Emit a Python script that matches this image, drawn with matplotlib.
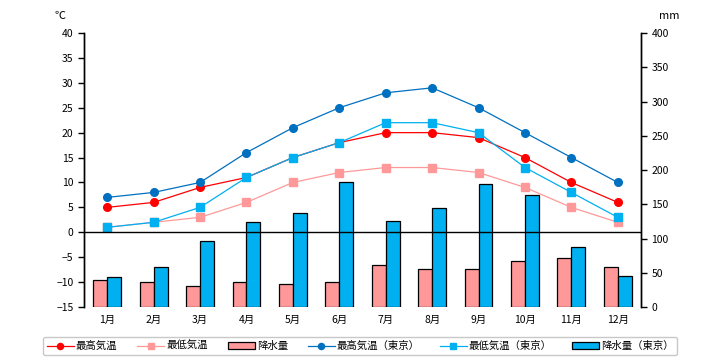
import matplotlib
matplotlib.use("Agg")
import matplotlib.pyplot as plt
import numpy as np

plt.rcParams['font.family'] = ['Noto Sans CJK JP', 'DejaVu Sans']

months = ["1月", "2月", "3月", "4月", "5月", "6月", "7月", "8月", "9月", "10月", "11月", "12月"]

# temperatures (℃)
t_max = [5, 6, 9, 11, 15, 18, 20, 20, 19, 15, 10, 6]
t_min = [1, 2, 3, 6, 10, 12, 13, 13, 12, 9, 5, 2]
tokyo_max = [7, 8, 10, 16, 21, 25, 28, 29, 25, 20, 15, 10]
tokyo_min = [1, 2, 5, 11, 15, 18, 22, 22, 20, 13, 8, 3]

# precipitation (mm)
rain = [39, 36, 30, 36, 33, 36, 61, 56, 55, 67, 72, 58]
tokyo_rain = [44, 58, 97, 124, 137, 183, 125, 145, 179, 163, 87, 45]

x = np.arange(len(months))

fig = plt.figure(figsize=(7.2, 3.6), dpi=100)
ax1 = fig.add_axes([0.1167, 0.1472, 0.7736, 0.7611])
ax2 = ax1.twinx()

# bars on the right axis, underneath the lines
ax2.set_facecolor("#FFFCCC")
ax2.bar(x - 0.15, rain, width=0.3, color="#FF9999", edgecolor="black", linewidth=0.9, label="降水量")
ax2.bar(x + 0.15, tokyo_rain, width=0.3, color="#00B0F0", edgecolor="black", linewidth=0.9, label="降水量（東京）")
ax2.set_ylim(0, 400)
ax2.set_yticks(range(0, 401, 50))

ax1.set_zorder(ax2.get_zorder() + 1)
ax1.patch.set_visible(False)

ms = 5.5
ax1.plot(x, t_max, color="#FF0000", marker="o", markersize=ms, linewidth=0.9, label="最高気温")
ax1.plot(x, t_min, color="#FF9999", marker="s", markersize=ms, linewidth=0.9, label="最低気温")
ax1.plot(x, tokyo_max, color="#0070C0", marker="o", markersize=ms, linewidth=0.9, label="最高気温（東京）")
ax1.plot(x, tokyo_min, color="#00B0F0", marker="s", markersize=ms, linewidth=0.9, label="最低気温（東京）")
ax1.axhline(0, color="black", linewidth=1)
ax1.set_ylim(-15, 40)
ax1.set_yticks(range(-15, 41, 5))
ax1.set_xlim(-0.5, 11.5)
ax1.set_xticks(x)
ax1.set_xticklabels(months)

for ax in (ax1, ax2):
    ax.tick_params(axis="both", labelsize=7.5, length=4, width=1, colors="black")
    ax.tick_params(axis="x", length=0, pad=6)
    for s in ax.spines.values():
        s.set_linewidth(1)
    ax.spines["top"].set_visible(False)
    ax.spines["bottom"].set_visible(False)

fig.text(0.083, 0.955, "℃", fontsize=8, ha="center", va="center")
fig.text(0.93, 0.955, "mm", fontsize=8, ha="center", va="center")

h1, l1 = ax1.get_legend_handles_labels()
h2, l2 = ax2.get_legend_handles_labels()
handles = [h1[0], h1[1], h2[0], h1[2], h1[3], h2[1]]
labels = [l1[0], l1[1], l2[0], l1[2], l1[3], l2[1]]
leg = fig.legend(handles, labels, loc="lower center", bbox_to_anchor=(0.5, 0.0), ncol=6,
                 fontsize=7.5, frameon=True, fancybox=True, edgecolor="#BBBBBB",
                 handlelength=2.6, handletextpad=0.2, columnspacing=1.9, borderpad=0.35,
                 markerscale=0.8)
leg.get_frame().set_linewidth(1)

fig.savefig("out.png", dpi=100)
